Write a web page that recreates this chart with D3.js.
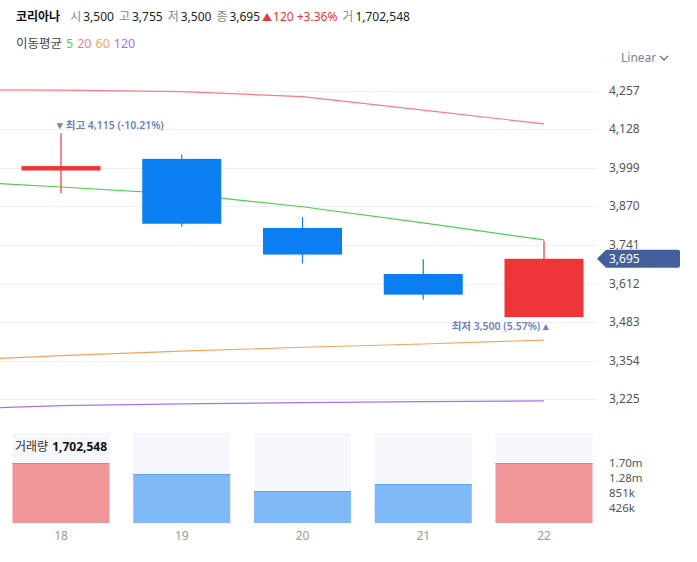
<!DOCTYPE html>
<html>
<head>
<meta charset="utf-8">
<script src="https://cdn.jsdelivr.net/npm/d3@7"></script>
<style>
  body { margin: 0; background: #fff; }
  svg { display: block; font-family: "Noto Sans", "Noto Sans CJK KR", sans-serif; }
</style>
</head>
<body>
<div id="chart"></div>
<script>
// candles (day 18..22)
var days = [18, 19, 20, 21, 22];
var opens = [3990, 4029, 3798, 3644, 3500];
var highs = [4115, 4044, 3834, 3693, 3755];
var lows = [3914, 3802, 3679, 3558, 3500];
var closes = [4005, 3812, 3709, 3575, 3695];
var volumes = [1702000, 1390000, 908000, 1106000, 1702548];

// moving averages, day 17 is just off the left edge
var maDays = [17, 18, 19, 20, 21, 22];
var ma5 = [3957, 3935, 3911, 3869, 3815, 3758];
var ma20 = [4260, 4259, 4254, 4237, 4192, 4146];
var ma60 = [3353, 3371, 3386, 3399, 3410, 3423];
var ma120 = [3191, 3204, 3210, 3214, 3217, 3220];

var priceTicks = [4257, 4128, 3999, 3870, 3741, 3612, 3483, 3354, 3225];
var volTickFracs = [1, 0.75, 0.5, 0.25];

var width = 697, height = 562;
var plotRight = 597;
var upColor = "#ee353a", downColor = "#0b7ef1";
var fmt = d3.format(",");

var svg = d3.select("#chart").append("svg")
    .attr("width", width)
    .attr("height", height);

var x = d3.scaleLinear().domain([18, 22]).range([61, 544]);
var y = d3.scaleLinear().domain([3225, 4257]).range([399.3, 90.7]);

// header
var head = svg.append("text").attr("x", 16).attr("y", 21).style("font-size", "12px");
head.append("tspan").text("코리아나").style("font-weight", "bold").attr("fill", "#111");
var parts = [
    ["시", "3,500"], ["고", "3,755"], ["저", "3,500"], ["종", "3,695"]
];
parts.forEach(function(p, i) {
    head.append("tspan").attr("dx", i == 0 ? 10 : 5).attr("fill", "#888").text(p[0]);
    head.append("tspan").attr("dx", 2).attr("fill", "#222").text(p[1]);
});
head.append("tspan").attr("dx", 2).attr("fill", upColor).style("font-size", "10px").text("▲");
head.append("tspan").attr("dx", 1).attr("fill", upColor).text("120");
head.append("tspan").attr("dx", 3).attr("fill", upColor).text("+3.36%");
head.append("tspan").attr("dx", 5).attr("fill", "#888").text("거");
head.append("tspan").attr("dx", 2).attr("fill", "#222").text("1,702,548");

var maLegend = svg.append("text").attr("x", 16).attr("y", 48).style("font-size", "12.5px");
maLegend.append("tspan").attr("fill", "#444").text("이동평균");
var maColors = ["#4fcf4f", "#ff7a82", "#f7a35c", "#a970f5"];
["5", "20", "60", "120"].forEach(function(t, i) {
    maLegend.append("tspan").attr("dx", 4).attr("fill", maColors[i]).text(t);
});

svg.append("text").attr("x", 621).attr("y", 62)
    .style("font-size", "12px").attr("fill", "#7a819a").text("Linear");
svg.append("path").attr("d", "M660,56 l4,4 l4,-4")
    .attr("fill", "none").attr("stroke", "#666").attr("stroke-width", 1.1);

// grid + price axis
svg.append("g").selectAll("line")
    .data(priceTicks).enter().append("line")
    .attr("x1", 0).attr("x2", plotRight)
    .attr("y1", function(d) { return Math.round(y(d)) + 0.5; })
    .attr("y2", function(d) { return Math.round(y(d)) + 0.5; })
    .attr("stroke", "#eef0f4");

svg.append("g").selectAll("text")
    .data(priceTicks).enter().append("text")
    .attr("x", 609).attr("y", function(d) { return y(d) + 4; })
    .style("font-size", "12px").attr("fill", "#555")
    .text(function(d) { return fmt(d); });

// moving averages
svg.append("clipPath").attr("id", "plotClip")
    .append("rect").attr("x", 0).attr("y", 60).attr("width", plotRight).attr("height", 360);

var line = d3.line()
    .x(function(d, i) { return x(maDays[i]); })
    .y(function(d) { return y(d); });

var maG = svg.append("g").attr("clip-path", "url(#plotClip)");
[ma20, ma5, ma60, ma120].forEach(function(series, i) {
    var c = [maColors[1], maColors[0], maColors[2], maColors[3]][i];
    maG.append("path").datum(series)
        .attr("d", line)
        .attr("fill", "none")
        .attr("stroke", c)
        .attr("stroke-width", 1.2);
});

// candles
var candleData = days.map(function(d, i) {
    return { day: d, open: opens[i], high: highs[i], low: lows[i], close: closes[i], vol: volumes[i] };
});
var bodyW = 79;

var candle = svg.append("g").selectAll("g")
    .data(candleData).enter().append("g");

candle.append("line")
    .attr("x1", function(d) { return x(d.day); })
    .attr("x2", function(d) { return x(d.day); })
    .attr("y1", function(d) { return y(d.high); })
    .attr("y2", function(d) { return y(d.low); })
    .attr("stroke", function(d) { return d.close >= d.open ? upColor : downColor; })
    .attr("stroke-width", 1.2);

candle.append("rect")
    .attr("x", function(d) { return x(d.day) - bodyW / 2; })
    .attr("width", bodyW)
    .attr("y", function(d) { return y(Math.max(d.open, d.close)); })
    .attr("height", function(d) { return Math.max(3, Math.abs(y(d.open) - y(d.close))); })
    .attr("fill", function(d) { return d.close >= d.open ? upColor : downColor; });

// high / low markers
var hi = d3.max(candleData, function(d) { return d.high; });
var lo = d3.min(candleData, function(d) { return d.low; });
var hiD = candleData.find(function(d) { return d.high == hi; });
var loD = candleData.filter(function(d) { return d.low == lo; }).pop();
var last = candleData[candleData.length - 1].close;
var markColor = "#6e82ba";

svg.append("text")
    .attr("x", x(hiD.day) - 4).attr("y", y(hi) - 4)
    .style("font-size", "10.5px").style("font-weight", "600").attr("fill", markColor)
    .text("▾ 최고 " + fmt(hi) + " (" + ((last - hi) / hi * 100).toFixed(2) + "%)");

svg.append("text")
    .attr("x", x(loD.day) + 5).attr("y", y(lo) + 13)
    .attr("text-anchor", "end")
    .style("font-size", "10.5px").style("font-weight", "600").attr("fill", markColor)
    .text("최저 " + fmt(lo) + " (" + ((last - lo) / lo * 100).toFixed(2) + "%) ▴");

// last price tag
var ty = y(last);
svg.append("path")
    .attr("d", "M597," + ty + " L606," + (ty - 9) + " H678 q2,0 2,2 V" + (ty + 7) + " q0,2 -2,2 H606 Z")
    .attr("fill", "#44609c");
svg.append("text").attr("x", 609).attr("y", ty + 4.5)
    .style("font-size", "12px").attr("fill", "#fff").text(fmt(last));

// volume
var maxVol = d3.max(volumes);
var vy = d3.scaleLinear().domain([0, maxVol * 1.5]).range([523, 433]);
var volW = 97;

var vg = svg.append("g").selectAll("g")
    .data(candleData).enter().append("g");

vg.append("rect")
    .attr("x", function(d) { return x(d.day) - volW / 2; })
    .attr("width", volW)
    .attr("y", vy.range()[1])
    .attr("height", vy.range()[0] - vy.range()[1])
    .attr("fill", "#f6f7fb");

vg.append("rect")
    .attr("x", function(d) { return x(d.day) - volW / 2; })
    .attr("width", volW)
    .attr("y", function(d) { return vy(d.vol); })
    .attr("height", function(d) { return vy(0) - vy(d.vol); })
    .attr("fill", function(d) { return d.close >= d.open ? "#f09699" : "#80b9f7"; });

vg.append("line")
    .attr("x1", function(d) { return x(d.day) - volW / 2; })
    .attr("x2", function(d) { return x(d.day) + volW / 2; })
    .attr("y1", function(d) { return vy(d.vol) + 0.5; })
    .attr("y2", function(d) { return vy(d.vol) + 0.5; })
    .attr("stroke", function(d) { return d.close >= d.open ? "#ea7c80" : "#5da4f4"; });

svg.append("g").selectAll("text")
    .data(volTickFracs).enter().append("text")
    .attr("x", 609).attr("y", function(d) { return vy(maxVol * d) + 4; })
    .style("font-size", "11.5px").attr("fill", "#555")
    .text(function(d) {
        var v = maxVol * d;
        return v >= 1e6 ? (v / 1e6).toFixed(2) + "m" : Math.round(v / 1e3) + "k";
    });

var volLabel = svg.append("text").attr("x", 15).attr("y", 451).style("font-size", "12px");
volLabel.append("tspan").attr("fill", "#333").text("거래량");
volLabel.append("tspan").attr("dx", 4).attr("fill", "#111").style("font-weight", "bold")
    .text(fmt(volumes[volumes.length - 1]));

// day axis
svg.append("g").selectAll("text")
    .data(days).enter().append("text")
    .attr("x", function(d) { return x(d); })
    .attr("y", 540)
    .attr("text-anchor", "middle")
    .style("font-size", "12px").attr("fill", "#999")
    .text(function(d) { return d; });
</script>
</body>
</html>
